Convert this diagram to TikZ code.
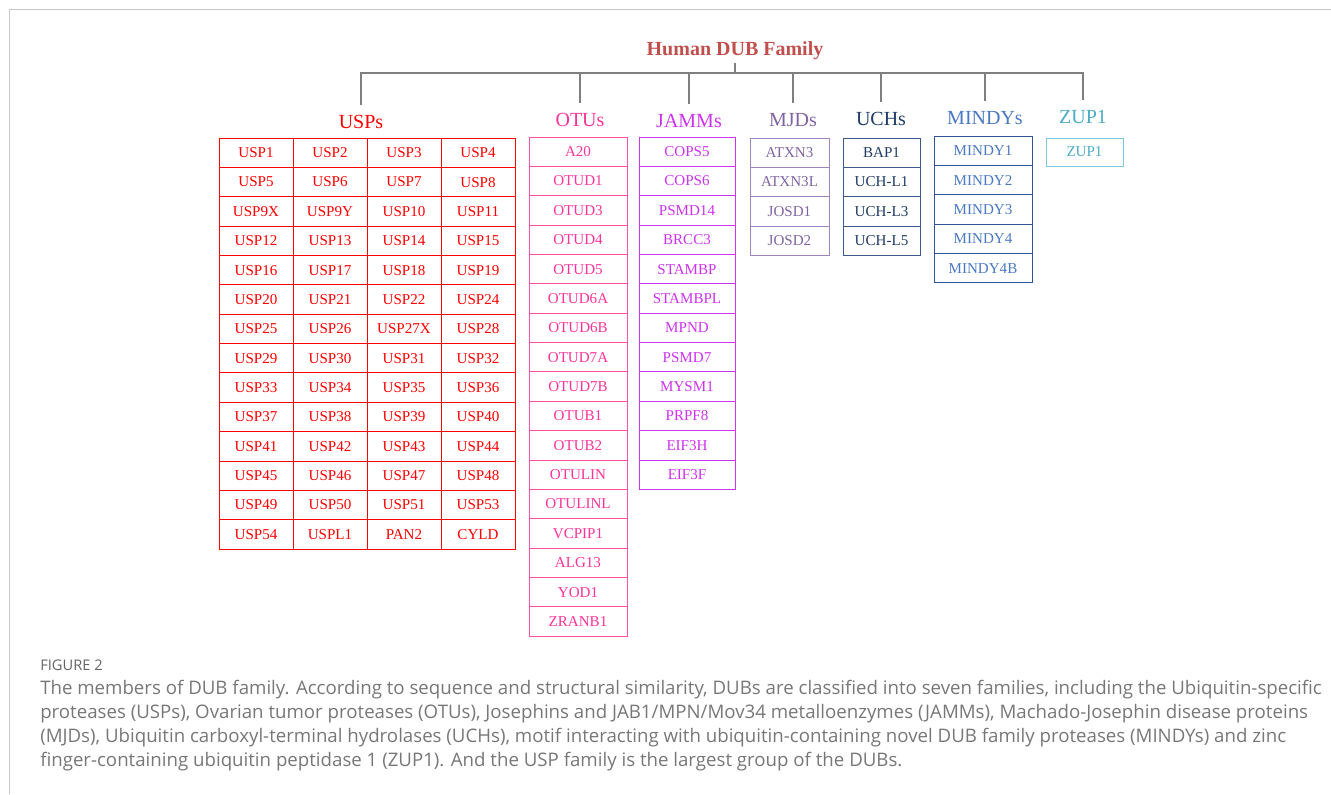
\documentclass[tikz,border=0pt]{standalone}
\usepackage{fontspec}
\setmainfont{Liberation Serif}
\newfontfamily\capfont{Open Sans}
\usetikzlibrary{positioning}

\definecolor{titlered}{HTML}{C0504D}
\definecolor{treegray}{HTML}{7F7F7F}
\definecolor{framegray}{HTML}{C8C8C8}
\definecolor{capgray}{HTML}{777777}
\definecolor{uspred}{HTML}{FF0000}
\definecolor{otupink}{HTML}{FF3399}
\definecolor{otuline}{HTML}{FF4FA7}
\definecolor{jammpurple}{HTML}{CC33EE}
\definecolor{mjdtext}{HTML}{8064A2}
\definecolor{mjdline}{HTML}{9F84C0}
\definecolor{uchtext}{HTML}{1F3B66}
\definecolor{uchline}{HTML}{3B5A8A}
\definecolor{mindytext}{HTML}{4A78C2}
\definecolor{mindyline}{HTML}{2F5597}
\definecolor{zuptext}{HTML}{4BACC6}
\definecolor{zupline}{HTML}{7EC8DC}

\begin{document}
\begin{tikzpicture}[x=0.75pt, y=-0.75pt,
    cell/.style={rectangle, draw, line width=0.7pt, minimum height=22pt, inner sep=0pt, font=\fontsize{11.3}{13}\selectfont},
    famlabel/.style={anchor=base, inner xsep=0pt, inner ysep=7pt, font=\fontsize{15}{18}\selectfont},
    branch/.style={draw=treegray, line width=1.5pt},
    captext/.style={anchor=base west, inner sep=0pt, text=capgray, font=\capfont\fontsize{14}{17}\selectfont}]

    % page and frame
    \useasboundingbox (0,0) rectangle (1331,794);
    \draw[framegray, line width=0.75pt] (9,794) -- (9,9) -- (1331,9);

    % title and family labels
    \node[font=\bfseries\fontsize{15}{18}\selectfont, text=titlered, inner sep=2pt] (title) at (735,51) {Human DUB Family};
    \coordinate (bar) at (735,73);

    \node[famlabel, text=uspred] (usps) at (361,128) {USPs};
    \node[famlabel, text=otupink] (otus) at (580,126) {OTUs};
    \node[famlabel, text=jammpurple] (jamms) at (689,127) {JAMMs};
    \node[famlabel, text=mjdtext] (mjds) at (793,126) {MJDs};
    \node[famlabel, text=uchtext] (uchs) at (881,125) {UCHs};
    \node[famlabel, text=mindytext] (mindys) at (985,124) {MINDYs};
    \node[famlabel, text=zuptext] (zup) at (1083,123) {ZUP1};

    \draw[branch] (title) -- (bar);
    \foreach \g in {usps,otus,jamms,mjds,uchs,mindys,zup}
        \draw[branch] (bar) -| (\g.north);

    % USPs (4 columns)
    \foreach \t [count=\i from 0] in {USP1,USP2,USP3,USP4,USP5,USP6,USP7,USP8,
        USP9X,USP9Y,USP10,USP11,USP12,USP13,USP14,USP15,USP16,USP17,USP18,USP19,
        USP20,USP21,USP22,USP24,USP25,USP26,USP27X,USP28,USP29,USP30,USP31,USP32,
        USP33,USP34,USP35,USP36,USP37,USP38,USP39,USP40,USP41,USP42,USP43,USP44,
        USP45,USP46,USP47,USP48,USP49,USP50,USP51,USP53,USP54,USPL1,PAN2,CYLD}
        \node[cell, draw=uspred, text=uspred, minimum width=55.5pt] (usp-\i)
            at ({256+74*mod(\i,4)}, {152.7+29.36*int(\i/4)}) {\t};

    % OTUs
    \foreach \t [count=\i from 0] in {A20,OTUD1,OTUD3,OTUD4,OTUD5,OTUD6A,OTUD6B,
        OTUD7A,OTUD7B,OTUB1,OTUB2,OTULIN,OTULINL,VCPIP1,ALG13,YOD1,ZRANB1}
        \node[cell, draw=otuline, text=otupink, minimum width=73.5pt] (otu-\i)
            at (578, {151.7+29.36*\i}) {\t};

    % JAMMs
    \foreach \t [count=\i from 0] in {COPS5,COPS6,PSMD14,BRCC3,STAMBP,STAMBPL,
        MPND,PSMD7,MYSM1,PRPF8,EIF3H,EIF3F}
        \node[cell, draw=jammpurple, text=jammpurple, minimum width=72pt] (jamm-\i)
            at (687, {151.7+29.36*\i}) {\t};

    % MJDs
    \foreach \t [count=\i from 0] in {ATXN3,ATXN3L,JOSD1,JOSD2}
        \node[cell, draw=mjdline, text=mjdtext, minimum width=59.25pt] (mjd-\i)
            at (789.5, {152.7+29.36*\i}) {\t};

    % UCHs
    \foreach \t [count=\i from 0] in {BAP1,UCH-L1,UCH-L3,UCH-L5}
        \node[cell, draw=uchline, text=uchtext, minimum width=57.75pt] (uch-\i)
            at (881.5, {152.7+29.36*\i}) {\t};

    % MINDYs
    \foreach \t [count=\i from 0] in {MINDY1,MINDY2,MINDY3,MINDY4,MINDY4B}
        \node[cell, draw=mindyline, text=mindytext, minimum width=73.5pt] (mindy-\i)
            at (983, {150.7+29.36*\i}) {\t};

    % ZUP1
    \node[cell, draw=zupline, text=zuptext, minimum width=57.75pt, minimum height=21pt] (zup-0)
        at (1084.5,152) {ZUP1};

    % caption
    \node[captext, text=capgray!85!black, font=\capfont\fontsize{11}{13}\selectfont] (figno) at (40,670) {FIGURE 2};
    \node[captext] (cap-1) at (40,694) {The members of DUB family. According to sequence and structural similarity, DUBs are classified into seven families, including the Ubiquitin-specific};
    \node[captext] (cap-2) at (40,718) {proteases (USPs), Ovarian tumor proteases (OTUs), Josephins and JAB1/MPN/Mov34 metalloenzymes (JAMMs), Machado-Josephin disease proteins};
    \node[captext] (cap-3) at (40,742) {(MJDs), Ubiquitin carboxyl-terminal hydrolases (UCHs), motif interacting with ubiquitin-containing novel DUB family proteases (MINDYs) and zinc};
    \node[captext] (cap-4) at (40,766) {finger-containing ubiquitin peptidase 1 (ZUP1). And the USP family is the largest group of the DUBs.};
\end{tikzpicture}
\end{document}
